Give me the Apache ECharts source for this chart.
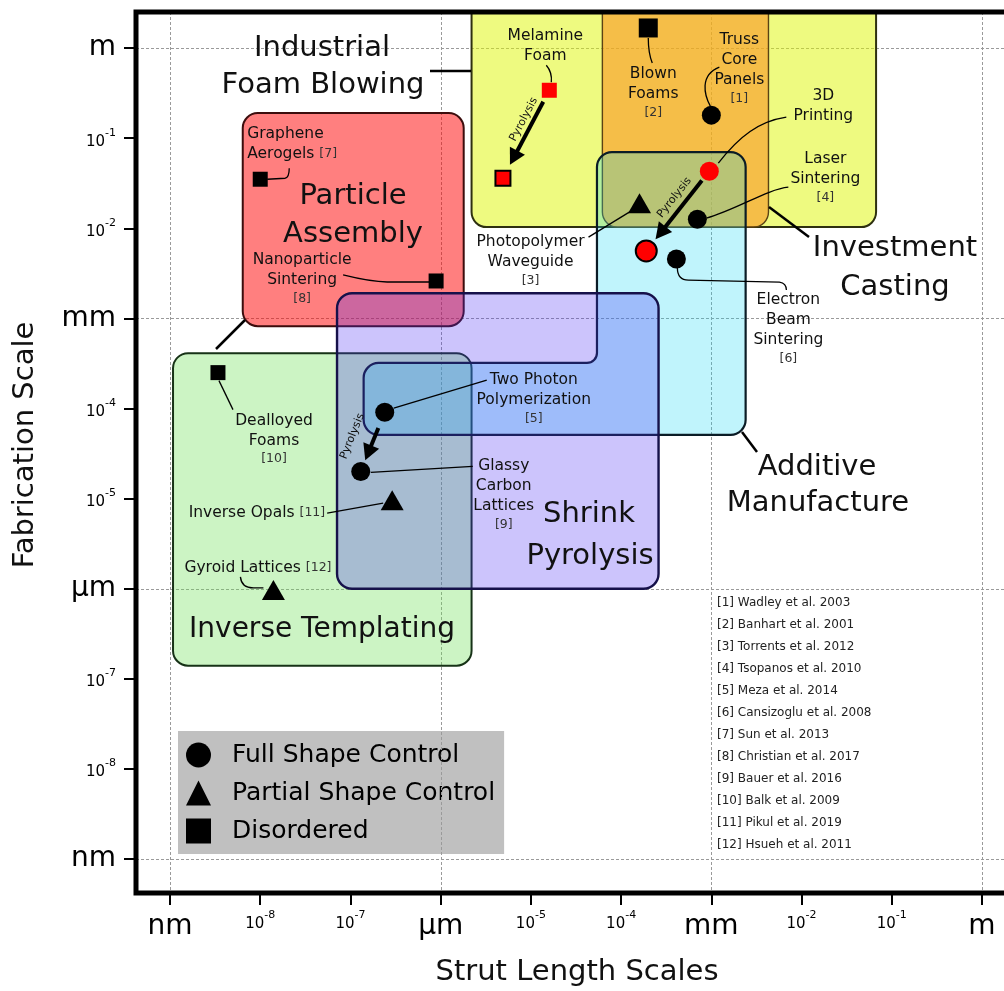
<!DOCTYPE html>
<html>
<head>
<meta charset="utf-8">
<script src="https://cdn.jsdelivr.net/npm/echarts@6/dist/echarts.min.js"></script>
<style>
html, body { margin: 0; padding: 0; background: #fff; }
#chart { width: 1004px; height: 991px; }
</style>
</head>
<body>
<div id="chart"></div>
<script>
// Architected lattice fabrication routes: strut length vs. fabrication scale (metres, log-log).

// ---- data -------------------------------------------------------------
const pointNames = [
  'Melamine Foam', 'Pyrolyzed Melamine Foam', 'Blown Foams', 'Truss Core Panels',
  '3D Printing', 'Pyrolyzed 3D Print', 'Laser Sintering', 'Photopolymer Waveguide',
  'Electron Beam Sintering', 'Graphene Aerogels', 'Nanoparticle Sintering', 'Dealloyed Foams',
  'Two Photon Polymerization', 'Glassy Carbon Lattices', 'Inverse Opals', 'Gyroid Lattices'
];
const strutLength = [1.6e-5, 4.9e-6, 2.0e-4, 1.0e-3, 9.5e-4, 1.9e-4, 7.0e-4, 1.6e-4,
                     4.1e-4, 1.0e-8, 8.9e-7, 3.4e-9, 2.4e-7, 1.3e-7, 2.9e-7, 1.4e-8];
const fabricationScale = [0.34, 0.036, 1.67, 0.18, 0.043, 5.6e-3, 0.0126, 0.019,
                          4.55e-3, 0.035, 2.6e-3, 2.5e-4, 9.1e-5, 2.0e-5, 9.6e-6, 9.7e-7];
const shapeControl = ['Disordered', 'Disordered', 'Disordered', 'Full', 'Full', 'Full', 'Full', 'Partial',
                      'Full', 'Disordered', 'Disordered', 'Disordered', 'Full', 'Full', 'Partial', 'Partial'];
// pyrolysis routes: source -> pyrolyzed product
const pyrolysisFrom = [0, 4, 12];
const pyrolysisTo = [1, 5, 13];

// fabrication route envelopes (metres); Additive Manufacture is L-shaped
const regionNames = ['Industrial Foam Blowing', 'Investment Casting', 'Particle Assembly',
                     'Inverse Templating', 'Additive Manufacture', 'Shrink Pyrolysis'];
const regionStrutMin = [2.2e-6, 6.2e-5, 6.4e-9, 1.08e-9, 1.4e-7, 7.1e-8];
const regionStrutMax = [6.7e-2, 4.3e-3, 1.8e-6, 2.2e-6, 2.4e-3, 2.6e-4];
const regionScaleMin = [1.03e-2, 1.03e-2, 8.2e-4, 1.4e-7, 5.1e-5, 1.0e-6];
const regionScaleMax = [4, 4, 0.19, 4.1e-4, 0.07, 1.9e-3];
// the wide (small strut) part of Additive Manufacture ends at this scale,
// above it only struts from this length upwards remain
const additiveNarrowStrutMin = 5.4e-5;
const additiveWideScaleMax = 3.2e-4;

const tickExponents = [-9, -8, -7, -6, -5, -4, -3, -2, -1, 0];
const tickUnits = ['nm', null, null, 'µm', null, null, 'mm', null, null, 'm'];
const gridExponents = [-9, -6, -3, 0];

const legendNames = ['Full Shape Control', 'Partial Shape Control', 'Disordered'];

const references = [
  '[1] Wadley et al. 2003', '[2] Banhart et al. 2001', '[3] Torrents et al. 2012',
  '[4] Tsopanos et al. 2010', '[5] Meza et al. 2014', '[6] Cansizoglu et al. 2008',
  '[7] Sun et al. 2013', '[8] Christian et al. 2017', '[9] Bauer et al. 2016',
  '[10] Balk et al. 2009', '[11] Pikul et al. 2019', '[12] Hsueh et al. 2011'
];

// ---- styling / layout ---------------------------------------------------
const FONT = "'DejaVu Sans', Verdana, sans-serif";
const L = Math.log10;

// translucent fills, stacked in draw order so overlaps mix
const regionFill = [
  'rgba(221,245,1,0.5)',     // foam blowing
  'rgba(250,150,35,0.6)',    // investment casting
  'rgba(255,0,0,0.5)',       // particle assembly
  'rgba(109,224,86,0.35)',   // inverse templating
  'rgba(22,215,244,0.27)',   // additive manufacture
  'rgba(73,44,244,0.28)'     // shrink pyrolysis
];
const regionStroke = ['#2e3010', '#5a4214', '#3c0d0d', '#173217', '#0b1c26', '#16114a'];
const regionLineWidth = [2, 1.4, 2, 2, 2.2, 2.4];
const CORNER = 15;

// label blocks next to each marker: offsets in pixels from the marker centre
function block(lines, cite) {
  return lines.map(l => '{t|' + l + '}').join('\n') + (cite ? '\n{c|' + cite + '}' : '');
}
const annotationLayout = {
  'Melamine Foam': { label: block(['Melamine', 'Foam']), dx: -4, dy: -64, leader: 'M -3 -25 Q 3 -18 2 -8' },
  'Blown Foams': { label: block(['Blown', 'Foams'], '[2]'), dx: 5, dy: 36, leader: 'M 0 10 Q 0 25 4 35' },
  'Truss Core Panels': { label: block(['Truss', 'Core', 'Panels'], '[1]'), dx: 28, dy: -85, leader: 'M -1 -9 C -7 -20 -12 -40 8 -48' },
  '3D Printing': { label: block(['3D', 'Printing']), dx: 114, dy: -85, leader: 'M 77 -54 C 50 -50 30 -35 9 -8' },
  'Laser Sintering': { label: block(['Laser', 'Sintering'], '[4]'), dx: 128, dy: -70, leader: 'M 91 -32 C 70 -30 40 -10 9 -1' },
  'Photopolymer Waveguide': { label: block(['Photopolymer', 'Waveguide'], '[3]'), dx: -109, dy: 29, leader: 'M -51 34 L -7 7' },
  'Electron Beam Sintering': { label: block(['Electron', 'Beam', 'Sintering'], '[6]'), dx: 112, dy: 31, leader: 'M 1 9 Q 1 21 12 21 L 103 23 Q 110 24 110 31' },
  'Graphene Aerogels': { label: '{t|Graphene}\n{t|Aerogels} {c|[7]}', align: 'left', dx: -13, dy: -55, leader: 'M 7 0 L 25 -1 Q 29 -2 29 -11' },
  'Nanoparticle Sintering': { label: block(['Nanoparticle', 'Sintering'], '[8]'), dx: -134, dy: -31, leader: 'M -93 -6 Q -65 1 -49 1 L -6 1' },
  'Dealloyed Foams': { label: block(['Dealloyed', 'Foams'], '[10]'), dx: 56, dy: 38, leader: 'M 1 8 L 15 37' },
  'Two Photon Polymerization': { label: block(['Two Photon', 'Polymerization'], '[5]'), dx: 149, dy: -42, leader: 'M 9 -4 L 102 -32' },
  'Glassy Carbon Lattices': { label: block(['Glassy', 'Carbon', 'Lattices'], '[9]'), dx: 143, dy: -15, leader: 'M 10 1 L 112 -5' },
  'Inverse Opals': { label: '{t|Inverse Opals} {c|[11]}', align: 'right', valign: 'middle', dx: -67, dy: 13, leader: 'M -65 13 L -9 3' },
  'Gyroid Lattices': { label: '{t|Gyroid Lattices} {c|[12]}', align: 'left', valign: 'middle', dx: -89, dy: -22, leader: 'M -33 -13 Q -32 -2 -20 -2 L -10 -2' }
};
const annotated = pointNames.map((n, i) => i).filter(i => annotationLayout[pointNames[i]]);

const arrowLayout = [
  { startGap: 13, tipGap: 15, along: 11, perp: 9 },
  { startGap: 12, tipGap: 15, along: 7, perp: 11 },
  { startGap: 17, tipGap: 12, along: 0, perp: 21 }
];

const regionLabels = [
  { text: 'Industrial', x: 322, y: 48, size: 29 },
  { text: 'Foam Blowing', x: 323, y: 85, size: 29 },
  { text: 'Particle', x: 353, y: 196, size: 29 },
  { text: 'Assembly', x: 353, y: 234, size: 29 },
  { text: 'Investment', x: 895, y: 248, size: 29 },
  { text: 'Casting', x: 895, y: 287, size: 29 },
  { text: 'Additive', x: 817, y: 467, size: 29 },
  { text: 'Manufacture', x: 818, y: 503, size: 29 },
  { text: 'Shrink', x: 589, y: 514, size: 29 },
  { text: 'Pyrolysis', x: 590, y: 556, size: 29 },
  { text: 'Inverse Templating', x: 322, y: 630, size: 28 }
];
const regionLeaders = [[430, 71, 471, 71], [245, 320, 216, 349], [769, 207, 809, 237], [742, 432, 757, 452]];

// ---- helpers ------------------------------------------------------------
function roundedPath(pts, radii) {
  const n = pts.length, k = 0.5523;
  let d = '';
  for (let i = 0; i < n; i++) {
    const p = pts[(i - 1 + n) % n], v = pts[i], q = pts[(i + 1) % n];
    const d1 = Math.hypot(p[0] - v[0], p[1] - v[1]);
    const d2 = Math.hypot(q[0] - v[0], q[1] - v[1]);
    const r = Math.min(radii[i], d1 / 2, d2 / 2);
    const a = [v[0] + (p[0] - v[0]) * r / d1, v[1] + (p[1] - v[1]) * r / d1];
    const b = [v[0] + (q[0] - v[0]) * r / d2, v[1] + (q[1] - v[1]) * r / d2];
    const c1 = [a[0] + (v[0] - a[0]) * k, a[1] + (v[1] - a[1]) * k];
    const c2 = [b[0] + (v[0] - b[0]) * k, b[1] + (v[1] - b[1]) * k];
    d += (i === 0 ? 'M' : 'L') + a[0] + ' ' + a[1] +
         ' C' + c1[0] + ' ' + c1[1] + ' ' + c2[0] + ' ' + c2[1] + ' ' + b[0] + ' ' + b[1] + ' ';
  }
  return d + 'Z';
}

function tickLabel(v) {
  const i = tickExponents.indexOf(Math.round(v));
  if (i < 0) return '';
  return tickUnits[i] ? '{u|' + tickUnits[i] + '}' : '{b|10}{s|' + tickExponents[i] + '}';
}

function pointItem(i) {
  const red = i === 0 || i === 1 || i === 4 || i === 5;
  const ringed = i === 1 || i === 5;
  return {
    name: pointNames[i],
    value: [L(strutLength[i]), L(fabricationScale[i])],
    symbolSize: shapeControl[i] === 'Partial' ? [23, 20]
      : shapeControl[i] === 'Disordered' ? (pointNames[i] === 'Blown Foams' ? 19 : 15)
      : (ringed ? 21 : 19),
    itemStyle: { color: red ? '#ff0000' : '#000', borderColor: '#000', borderWidth: ringed ? 2 : 0, opacity: 1 }
  };
}
function seriesPoints(kind) {
  return pointNames.map((n, i) => i).filter(i => shapeControl[i] === kind).map(pointItem);
}

const RICH_ANN = {
  t: { fontSize: 15.5, lineHeight: 20, fontFamily: FONT, fill: '#111' },
  c: { fontSize: 12.5, lineHeight: 17, fontFamily: FONT, fill: '#333' }
};

// ---- chart --------------------------------------------------------------
const chart = echarts.init(document.getElementById('chart'), null, { renderer: 'canvas' });

const axisCommon = {
  type: 'value',
  axisLine: { show: false, onZero: false },
  splitLine: { show: false },
  axisTick: { show: true, customValues: tickExponents, length: 12, inside: false,
              lineStyle: { color: '#000', width: 2 } },
  axisLabel: {
    show: true, customValues: tickExponents, formatter: tickLabel, color: '#000',
    rich: {
      u: { fontSize: 28, fontFamily: FONT, color: '#000', lineHeight: 34 },
      b: { fontSize: 15, fontFamily: FONT, color: '#000', lineHeight: 22, verticalAlign: 'bottom' },
      s: { fontSize: 11, fontFamily: FONT, color: '#000', verticalAlign: 'top' }
    }
  }
};

const scatterStyle = { color: '#000', opacity: 1 };

const option = {
  backgroundColor: '#ffffff',
  animation: false,
  grid: { left: 136, top: 12, right: -12, bottom: 98, show: false, outerBoundsMode: 'none', containLabel: false },
  xAxis: Object.assign({}, axisCommon, {
    min: -9.377, max: 0.377, position: 'bottom',
    axisLabel: Object.assign({}, axisCommon.axisLabel, { margin: 17 })
  }),
  yAxis: Object.assign({}, axisCommon, {
    min: -9.377, max: 0.40, position: 'left',
    axisLabel: Object.assign({}, axisCommon.axisLabel, { margin: 20 })
  }),
  legend: {
    left: 178, top: 731, orient: 'vertical', z: 0,
    padding: [9, 9, 8, 8], itemGap: 8, itemWidth: 25, itemHeight: 25,
    backgroundColor: '#c0c0c0', selectedMode: false,
    itemStyle: { opacity: 1 },
    textStyle: { fontSize: 25, fontFamily: FONT, color: '#000', lineHeight: 30, padding: [0, 0, 0, 16] },
    data: [
      { name: legendNames[0], icon: 'circle' },
      { name: legendNames[1], icon: 'triangle' },
      { name: legendNames[2], icon: 'rect' }
    ]
  },
  series: [
    { // dashed guide lines at nm, µm, mm, m
      type: 'custom', z: 1, silent: true,
      data: gridExponents.map(v => [v, v]),
      renderItem(params, api) {
        const cs = params.coordSys;
        const px = Math.round(api.coord([api.value(0), 0])[0]) + 0.5;
        const py = Math.round(api.coord([0, api.value(1)])[1]) + 0.5;
        const st = { stroke: '#9a9a9a', lineWidth: 1, lineDash: [3, 2] };
        return { type: 'group', children: [
          { type: 'line', shape: { x1: px, y1: cs.y, x2: px, y2: cs.y + cs.height }, style: st },
          { type: 'line', shape: { x1: cs.x, y1: py, x2: cs.x + cs.width, y2: py }, style: st }
        ] };
      }
    },
    { // fabrication route envelopes
      type: 'custom', z: 2, silent: true,
      data: regionNames.map((n, i) => [L(regionStrutMin[i]), L(regionScaleMin[i]), L(regionStrutMax[i]), L(regionScaleMax[i])]),
      renderItem(params, api) {
        const i = params.dataIndex;
        const cs = params.coordSys;
        const x0 = api.coord([api.value(0), 0])[0];
        const x1 = api.coord([api.value(2), 0])[0];
        const yb = api.coord([0, api.value(1)])[1];
        let yt = api.coord([0, api.value(3)])[1];
        const clipped = yt < cs.y;
        if (clipped) yt = cs.y;
        let pts, radii;
        if (regionNames[i] === 'Additive Manufacture') {
          const xn = api.coord([L(additiveNarrowStrutMin), 0])[0];
          const ya = api.coord([0, L(additiveWideScaleMax)])[1];
          pts = [[xn, yt], [x1, yt], [x1, yb], [x0, yb], [x0, ya], [xn, ya]];
          radii = [CORNER, CORNER, CORNER, CORNER, CORNER, 10];
        } else {
          pts = [[x0, yt], [x1, yt], [x1, yb], [x0, yb]];
          radii = clipped ? [0, 0, CORNER, CORNER] : [CORNER, CORNER, CORNER, CORNER];
        }
        return {
          type: 'path',
          shape: { pathData: roundedPath(pts, radii) },
          style: { fill: regionFill[i], stroke: regionStroke[i], lineWidth: regionLineWidth[i] }
        };
      }
    },
    { type: 'scatter', name: legendNames[0], symbol: 'circle', z: 3, silent: true, data: seriesPoints('Full'), itemStyle: scatterStyle },
    { type: 'scatter', name: legendNames[1], symbol: 'triangle', z: 3, silent: true, data: seriesPoints('Partial'), itemStyle: scatterStyle },
    { type: 'scatter', name: legendNames[2], symbol: 'rect', z: 3, silent: true, data: seriesPoints('Disordered'), itemStyle: scatterStyle },
    { // pyrolysis arrows
      type: 'custom', z: 4, silent: true,
      data: pyrolysisFrom.map((f, k) => [L(strutLength[f]), L(fabricationScale[f]), L(strutLength[pyrolysisTo[k]]), L(fabricationScale[pyrolysisTo[k]])]),
      renderItem(params, api) {
        const lay = arrowLayout[params.dataIndex];
        const a = api.coord([api.value(0), api.value(1)]);
        const b = api.coord([api.value(2), api.value(3)]);
        const len = Math.hypot(b[0] - a[0], b[1] - a[1]);
        const ux = (b[0] - a[0]) / len, uy = (b[1] - a[1]) / len;
        const s = [a[0] + ux * lay.startGap, a[1] + uy * lay.startGap];
        const t = [b[0] - ux * lay.tipGap, b[1] - uy * lay.tipGap];
        const hl = 16, hw = 8.5;
        const base = [t[0] - ux * hl, t[1] - uy * hl];
        const nx = -uy, ny = ux;
        const rx = -ux, ry = -uy;      // reading direction of the label
        const gx = ry, gy = -rx;       // "up" for the label glyphs
        const mid = [(s[0] + t[0]) / 2, (s[1] + t[1]) / 2];
        const cx = mid[0] + rx * lay.along + gx * lay.perp;
        const cy = mid[1] + ry * lay.along + gy * lay.perp;
        return { type: 'group', children: [
          { type: 'line', shape: { x1: s[0], y1: s[1], x2: base[0] + ux * 2, y2: base[1] + uy * 2 }, style: { stroke: '#000', lineWidth: 4 } },
          { type: 'polygon', shape: { points: [t, [base[0] + nx * hw, base[1] + ny * hw], [base[0] - nx * hw, base[1] - ny * hw]] }, style: { fill: '#000' } },
          { type: 'text', x: cx, y: cy, rotation: Math.atan2(-ry, rx),
            style: { text: 'Pyrolysis', fontSize: 11, fontFamily: FONT, fill: '#111', align: 'center', verticalAlign: 'middle' } }
        ] };
      }
    },
    { // marker labels with leader lines
      type: 'custom', z: 6, silent: true,
      data: annotated.map(i => [L(strutLength[i]), L(fabricationScale[i])]),
      renderItem(params, api) {
        const lay = annotationLayout[pointNames[annotated[params.dataIndex]]];
        const p = api.coord([api.value(0), api.value(1)]);
        return { type: 'group', children: [
          { type: 'path', x: p[0], y: p[1], shape: { pathData: lay.leader }, style: { fill: 'none', stroke: '#000', lineWidth: 1.3 } },
          { type: 'text', x: p[0] + lay.dx, y: p[1] + lay.dy,
            style: { text: lay.label, rich: RICH_ANN, fontSize: 15.5, fontFamily: FONT, fill: '#111',
                     align: lay.align || 'center', verticalAlign: lay.valign || 'top' } }
        ] };
      }
    },
    { // plot frame
      type: 'custom', z: 8, silent: true,
      data: [[0, 0]],
      renderItem(params) {
        const cs = params.coordSys;
        return { type: 'rect', shape: { x: cs.x, y: cs.y, width: cs.width, height: cs.height },
                 style: { fill: 'none', stroke: '#000', lineWidth: 5 } };
      }
    }
  ],
  graphic: [].concat(
    regionLabels.map(r => ({
      type: 'text', x: r.x, y: r.y, z: 10, silent: true,
      style: { text: r.text, fontSize: r.size, fontFamily: FONT, fill: '#111', align: 'center', verticalAlign: 'middle' }
    })),
    regionLeaders.map(l => ({
      type: 'line', z: 10, silent: true, shape: { x1: l[0], y1: l[1], x2: l[2], y2: l[3] },
      style: { stroke: '#000', lineWidth: 2.5 }
    })),
    references.map((r, i) => ({
      type: 'text', x: 717, y: 603 + 22 * i, z: 10, silent: true,
      style: { text: r, fontSize: 12, fontFamily: FONT, fill: '#222', align: 'left', verticalAlign: 'middle' }
    })),
    [
      { type: 'text', x: 577, y: 972, z: 10, silent: true,
        style: { text: 'Strut Length Scales', fontSize: 29, fontFamily: FONT, fill: '#111', align: 'center', verticalAlign: 'middle' } },
      { type: 'text', x: 25, y: 445, z: 10, silent: true, rotation: Math.PI / 2,
        style: { text: 'Fabrication Scale', fontSize: 29, fontFamily: FONT, fill: '#111', align: 'center', verticalAlign: 'middle' } }
    ]
  )
};

chart.setOption(option);
</script>
</body>
</html>
